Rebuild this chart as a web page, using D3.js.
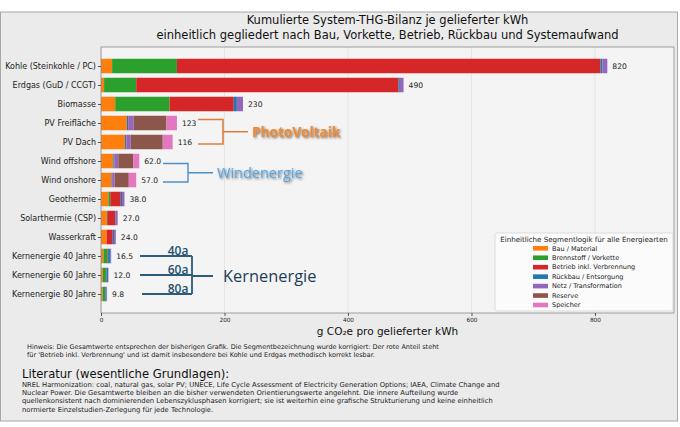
<!DOCTYPE html>
<html><head><meta charset="utf-8">
<script src="https://cdn.jsdelivr.net/npm/d3@7/dist/d3.min.js"></script>
<style>
html,body{margin:0;padding:0;background:#fff;}
svg{display:block;font-family:"DejaVu Sans",sans-serif;}
</style></head>
<body><svg id="c" width="680" height="427"></svg>
<script>
const categories = ["Kohle (Steinkohle / PC)","Erdgas (GuD / CCGT)","Biomasse","PV Freifläche","PV Dach","Wind offshore","Wind onshore","Geothermie","Solarthermie (CSP)","Wasserkraft","Kernenergie 40 Jahre","Kernenergie 60 Jahre","Kernenergie 80 Jahre"];
const bau        = [18, 5, 23, 42, 39, 20, 17, 12, 9, 9, 4, 3, 2.5];
const brennstoff = [105, 52, 88, 0, 0, 0, 0, 3, 1, 0, 6.5, 5, 4];
const betrieb    = [686, 425, 104, 0, 0, 0, 0, 17, 13, 10, 1, 0.8, 0.6];
const rueckbau   = [3, 2, 5, 2, 2, 2, 1, 2, 1, 2, 4, 2.5, 2];
const netz       = [8, 6, 10, 9, 7, 6, 4, 4, 3, 3, 1, 0.7, 0.7];
const reserve    = [0, 0, 0, 53, 52, 24, 23, 0, 0, 0, 0, 0, 0];
const speicher   = [0, 0, 0, 17, 16, 10, 12, 0, 0, 0, 0, 0, 0];
const totalLabels = ["820","490","230","123","116","62.0","57.0","38.0","27.0","24.0","16.5","12.0","9.8"];
const segmentNames = ["Bau / Material","Brennstoff / Vorkette","Betrieb inkl. Verbrennung","Rückbau / Entsorgung","Netz / Transformation","Reserve","Speicher"];
const segmentColors = ["#ff7f0e","#2ca02c","#d62728","#1f77b4","#9467bd","#8c564b","#e377c2"];
const xTicks = [0, 200, 400, 600, 800];
const xMax = 928;

const series = [bau, brennstoff, betrieb, rueckbau, netz, reserve, speicher];
const rows = categories.map((c, i) => {
  const r = {cat: c};
  segmentNames.forEach((s, k) => r[s] = series[k][i]);
  return r;
});
const stacked = d3.stack().keys(segmentNames)(rows);

const svg = d3.select("#c");
svg.append("rect").attr("x",0).attr("y",0).attr("width",680).attr("height",427).attr("fill","#fff");
svg.append("rect").attr("x",0.5).attr("y",12).attr("width",677).attr("height",409).attr("fill","#ebebeb").attr("stroke","#a8a8a8").attr("stroke-width",1);

const defs = svg.append("defs");
const f = defs.append("filter").attr("id","sh").attr("x","-10%").attr("y","-30%").attr("width","130%").attr("height","170%");
f.append("feDropShadow").attr("dx",1.2).attr("dy",1.2).attr("stdDeviation",0.9).attr("flood-color","#444").attr("flood-opacity",0.75);

const L = 101, R = 674, T = 47, B = 313;
const x = d3.scaleLinear().domain([0, xMax]).range([L, R]);
const y = d3.scalePoint().domain(categories).range([T, B]).padding(1);
const bh = 14.5;

svg.append("rect").attr("x",L).attr("y",T).attr("width",R-L).attr("height",B-T).attr("fill","#f4f4f4");
svg.append("g").selectAll("line").data(xTicks).join("line")
  .attr("x1",d=>x(d)).attr("x2",d=>x(d)).attr("y1",T).attr("y2",B)
  .attr("stroke","#e0e0e0").attr("stroke-width",0.8);

svg.append("g").selectAll("g").data(stacked).join("g")
  .attr("fill",(d,k)=>segmentColors[k])
  .selectAll("rect").data(d=>d).join("rect")
  .attr("x",d=>x(d[0])).attr("width",d=>Math.max(0,x(d[1])-x(d[0])))
  .attr("y",d=>y(d.data.cat)-bh/2).attr("height",bh);

const totals = categories.map((c,i)=>series.reduce((s,a)=>s+a[i],0));
svg.append("g").selectAll("text").data(categories).join("text")
  .attr("x",(d,i)=>x(totals[i])+5).attr("y",d=>y(d)).attr("dy","0.35em")
  .attr("font-size",7.6).attr("fill","#222").text((d,i)=>totalLabels[i]);

svg.append("rect").attr("x",L).attr("y",T).attr("width",R-L).attr("height",B-T).attr("fill","none").attr("stroke","#8a8a8a").attr("stroke-width",0.8);

const yAx = svg.append("g").attr("transform",`translate(${L},0)`).call(d3.axisLeft(y).tickSize(3).tickPadding(2));
yAx.select(".domain").remove();
yAx.selectAll("text").attr("font-size",8).attr("fill","#222").attr("font-family","DejaVu Sans");
yAx.selectAll("line").attr("stroke","#555");
const xAx = svg.append("g").attr("transform",`translate(0,${B})`).call(d3.axisBottom(x).tickValues(xTicks).tickSize(3).tickPadding(2));
xAx.select(".domain").remove();
xAx.selectAll("text").attr("font-size",5.8).attr("fill","#222").attr("font-family","DejaVu Sans");
xAx.selectAll("line").attr("stroke","#555");

const cx = (L+R)/2;
svg.append("text").attr("x",cx).attr("y",24).attr("text-anchor","middle").attr("font-size",11.5).attr("fill","#111").text("Kumulierte System-THG-Bilanz je gelieferter kWh");
svg.append("text").attr("x",cx).attr("y",39).attr("text-anchor","middle").attr("font-size",11.5).attr("fill","#111").text("einheitlich gegliedert nach Bau, Vorkette, Betrieb, Rückbau und Systemaufwand");
svg.append("text").attr("x",cx).attr("y",335).attr("text-anchor","middle").attr("font-size",10.5).attr("fill","#111").text("g CO₂e pro gelieferter kWh");

const lg = svg.append("g");
lg.append("rect").attr("x",495).attr("y",233).attr("width",178).attr("height",78).attr("rx",2).attr("fill","#fbfbfb").attr("stroke","#d0d0d0").attr("stroke-width",0.7);
lg.append("text").attr("x",584).attr("y",241.5).attr("text-anchor","middle").attr("font-size",7.1).attr("fill","#222").text("Einheitliche Segmentlogik für alle Energiearten");
segmentNames.forEach((s,k)=>{
  const yy = 248.3 + k*9.45;
  lg.append("rect").attr("x",533).attr("y",yy-2.3).attr("width",15).attr("height",4.6).attr("fill",segmentColors[k]);
  lg.append("text").attr("x",552).attr("y",yy).attr("dy","0.35em").attr("font-size",6.5).attr("fill","#222").text(s);
});

function bracket(y1, y2, xa, xb, xc, col, w){
  const g = svg.append("g").attr("stroke",col).attr("stroke-width",w).attr("fill","none");
  g.append("path").attr("d",`M${xa},${y1}H${xb}V${y2}H${xa}M${xb},${(y1+y2)/2}H${xc}`);
}
const yPV1 = y(categories[3]) - 3.5, yPV2 = y(categories[4]) + 2;
bracket(yPV1, yPV2, 198, 223, 248, "#e07a3a", 1.6);
svg.append("text").attr("x",252).attr("y",(yPV1+yPV2)/2).attr("dy","0.36em").attr("font-size",13.6).attr("font-weight","bold")
  .attr("fill","#ee8a35").attr("filter","url(#sh)").attr("font-family","Open Sans, sans-serif").text("PhotoVoltaik");

const yW1 = y(categories[5]) + 2.5, yW2 = y(categories[6]) + 2;
bracket(yW1, yW2, 163, 188, 213, "#4f8fc7", 1.4);
svg.append("text").attr("x",217).attr("y",(yW1+yW2)/2).attr("dy","0.36em").attr("font-size",14.5)
  .attr("fill","#5aa6df").attr("filter","url(#sh)").attr("font-family","Open Sans, sans-serif").text("Windenergie");

const yK1 = y(categories[10]), yK2 = y(categories[11]), yK3 = y(categories[12]);
const kg = svg.append("g").attr("stroke","#2c5b7c").attr("stroke-width",1.8).attr("fill","none");
kg.append("path").attr("d",`M140,${yK1}H192M140,${yK2}H192M142,${yK3}H192M192,${yK1}V${yK3}M192,${yK2+1}H213`);
[["40a",yK1],["60a",yK2],["80a",yK3]].forEach(([t,yy])=>{
  svg.append("text").attr("x",178).attr("y",yy-1.5).attr("text-anchor","middle").attr("font-size",12).attr("fill","#24506f")
    .attr("font-family","Open Sans, sans-serif").attr("font-weight","600").text(t);
});
svg.append("text").attr("x",223).attr("y",yK2+1).attr("dy","0.36em").attr("font-size",16.4).attr("fill","#1e3d57")
  .attr("font-family","Open Sans, sans-serif").text("Kernenergie");

svg.append("text").attr("x",27).attr("y",349).attr("font-size",6.5).attr("fill","#222").text("Hinweis: Die Gesamtwerte entsprechen der bisherigen Grafik. Die Segmentbezeichnung wurde korrigiert: Der rote Anteil steht");
svg.append("text").attr("x",27).attr("y",357).attr("font-size",6.5).attr("fill","#222").text("für 'Betrieb inkl. Verbrennung' und ist damit insbesondere bei Kohle und Erdgas methodisch korrekt lesbar.");
svg.append("text").attr("x",22).attr("y",378).attr("font-size",11.6).attr("fill","#111").text("Literatur (wesentliche Grundlagen):");
const lit = ["NREL Harmonization: coal, natural gas, solar PV; UNECE, Life Cycle Assessment of Electricity Generation Options; IAEA, Climate Change and",
"Nuclear Power. Die Gesamtwerte bleiben an die bisher verwendeten Orientierungswerte angelehnt. Die innere Aufteilung wurde",
"quellenkonsistent nach dominierenden Lebenszyklusphasen korrigiert; sie ist weiterhin eine grafische Strukturierung und keine einheitlich",
"normierte Einzelstudien-Zerlegung für jede Technologie."];
lit.forEach((t,i)=>svg.append("text").attr("x",22).attr("y",387+i*8.2).attr("font-size",6.8).attr("fill","#222").text(t));
</script></body></html>
